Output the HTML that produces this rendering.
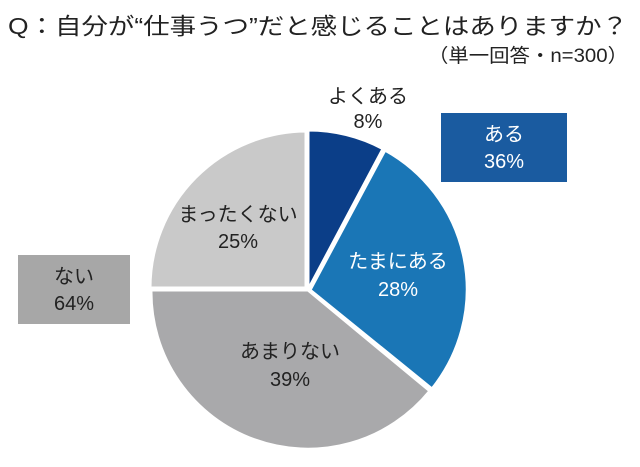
<!DOCTYPE html>
<html><head><meta charset="utf-8"><style>
body{margin:0;background:#fff;}
svg text{font-family:"Liberation Sans","Noto Sans CJK JP",sans-serif;}
</style></head><body>
<svg width="640" height="462" viewBox="0 0 640 462" xmlns="http://www.w3.org/2000/svg">
<rect width="640" height="462" fill="#fff"/>
<text x="8" y="34" font-size="23" fill="#222" textLength="620" lengthAdjust="spacingAndGlyphs">Q：自分が“仕事うつ”だと感じることはありますか？</text>
<text x="628" y="62" font-size="19" fill="#222" text-anchor="end" textLength="200" lengthAdjust="spacingAndGlyphs">（単一回答・n=300）</text>
<g stroke="#fff" stroke-width="3" stroke-linejoin="round">
<path d="M308,290 L308,130 A160,160 0 0 1 383.1,148.7 Z" fill="#0b3e88"/>
<path d="M310,290 L385,150 A159,159 0 0 1 432,389 Z" fill="#1a76b6"/>
<path d="M308,290 L430,391 A157,157 0 0 1 151,290 Z" fill="#a9a9ab"/>
<path d="M306,288 L150,288 A157,157 0 0 1 306,131 Z" fill="#c9c9c9"/>
</g>
<g font-size="20">
<text x="368" y="103" fill="#222" text-anchor="middle">よくある</text>
<text x="368" y="128" fill="#222" text-anchor="middle">8%</text>
<text x="398" y="268" fill="#fff" text-anchor="middle">たまにある</text>
<text x="398" y="296" fill="#fff" text-anchor="middle">28%</text>
<text x="238" y="221" fill="#222" text-anchor="middle">まったくない</text>
<text x="238" y="248" fill="#222" text-anchor="middle">25%</text>
<text x="290" y="358" fill="#222" text-anchor="middle">あまりない</text>
<text x="290" y="386" fill="#222" text-anchor="middle">39%</text>
<rect x="441" y="113" width="126" height="69" fill="#1a5ba0"/>
<text x="504" y="141" fill="#fff" text-anchor="middle">ある</text>
<text x="504" y="168" fill="#fff" text-anchor="middle">36%</text>
<rect x="18" y="255" width="112" height="69" fill="#a7a7a7"/>
<text x="74" y="283" fill="#222" text-anchor="middle">ない</text>
<text x="74" y="310" fill="#222" text-anchor="middle">64%</text>
</g>
</svg>
</body></html>
